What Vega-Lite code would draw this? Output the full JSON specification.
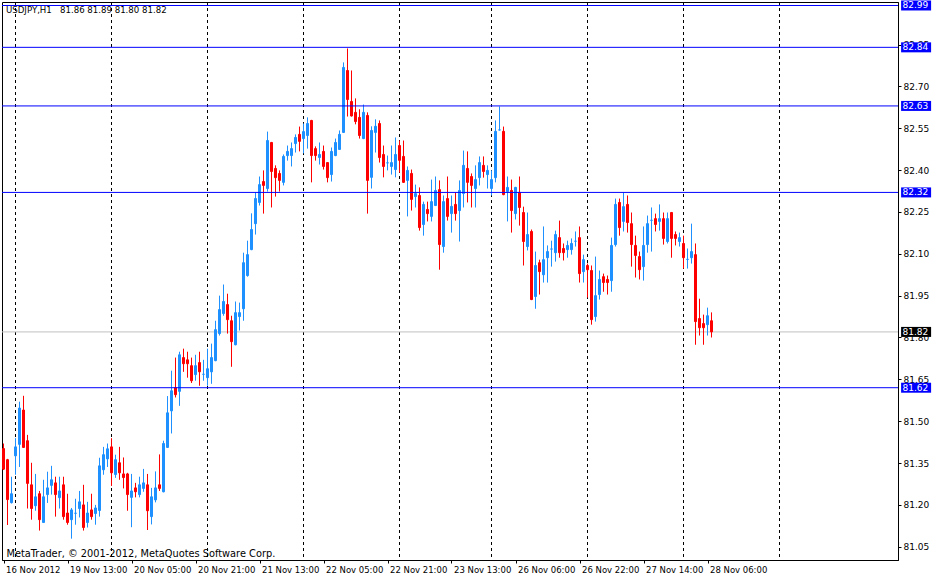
{
  "$schema": "https://vega.github.io/schema/vega-lite/v6.json",
  "description": "USDJPY H1 candlestick chart, MetaTrader style",
  "autosize": {"type": "none"},
  "padding": {"left": 2, "top": 2, "right": 38, "bottom": 17},
  "width": 896,
  "height": 558,
  "background": "white",
  "title": {
    "text": "USDJPY,H1\u00a0\u00a0\u00a081.86 81.89 81.80 81.82",
    "anchor": "start",
    "frame": "group",
    "offset": -14,
    "dx": 4,
    "font": "DejaVu Sans",
    "fontSize": 8.6,
    "fontWeight": "normal",
    "color": "black"
  },
  "config": {
    "font": "DejaVu Sans",
    "view": {"stroke": "black", "strokeWidth": 1},
    "axis": {
      "labelFont": "DejaVu Sans",
      "labelFontSize": 9,
      "labelColor": "black",
      "tickColor": "black",
      "domainColor": "black",
      "grid": false
    }
  },
  "datasets": {
    "candles": [
      {"i": 0, "o": 81.402, "h": 81.420, "l": 81.325, "c": 81.328},
      {"i": 1, "o": 81.362, "h": 81.365, "l": 81.128, "c": 81.219},
      {"i": 2, "o": 81.208, "h": 81.301, "l": 81.205, "c": 81.240},
      {"i": 3, "o": 81.376, "h": 81.439, "l": 81.308, "c": 81.408},
      {"i": 4, "o": 81.417, "h": 81.570, "l": 81.336, "c": 81.547},
      {"i": 5, "o": 81.540, "h": 81.591, "l": 81.404, "c": 81.406},
      {"i": 6, "o": 81.430, "h": 81.451, "l": 81.187, "c": 81.277},
      {"i": 7, "o": 81.272, "h": 81.351, "l": 81.147, "c": 81.187},
      {"i": 8, "o": 81.197, "h": 81.311, "l": 81.179, "c": 81.229},
      {"i": 9, "o": 81.240, "h": 81.250, "l": 81.108, "c": 81.147},
      {"i": 10, "o": 81.137, "h": 81.290, "l": 81.135, "c": 81.229},
      {"i": 11, "o": 81.237, "h": 81.319, "l": 81.207, "c": 81.261},
      {"i": 12, "o": 81.270, "h": 81.340, "l": 81.237, "c": 81.290},
      {"i": 13, "o": 81.279, "h": 81.301, "l": 81.158, "c": 81.237},
      {"i": 14, "o": 81.226, "h": 81.301, "l": 81.187, "c": 81.250},
      {"i": 15, "o": 81.272, "h": 81.301, "l": 81.147, "c": 81.158},
      {"i": 16, "o": 81.171, "h": 81.240, "l": 81.129, "c": 81.137},
      {"i": 17, "o": 81.147, "h": 81.189, "l": 81.079, "c": 81.182},
      {"i": 18, "o": 81.170, "h": 81.222, "l": 81.129, "c": 81.170},
      {"i": 19, "o": 81.187, "h": 81.250, "l": 81.155, "c": 81.211},
      {"i": 20, "o": 81.200, "h": 81.272, "l": 81.108, "c": 81.119},
      {"i": 21, "o": 81.137, "h": 81.211, "l": 81.119, "c": 81.171},
      {"i": 22, "o": 81.182, "h": 81.240, "l": 81.147, "c": 81.158},
      {"i": 23, "o": 81.169, "h": 81.200, "l": 81.129, "c": 81.189},
      {"i": 24, "o": 81.180, "h": 81.369, "l": 81.158, "c": 81.340},
      {"i": 25, "o": 81.326, "h": 81.408, "l": 81.308, "c": 81.380},
      {"i": 26, "o": 81.365, "h": 81.420, "l": 81.336, "c": 81.401},
      {"i": 27, "o": 81.408, "h": 81.439, "l": 81.268, "c": 81.315},
      {"i": 28, "o": 81.309, "h": 81.380, "l": 81.297, "c": 81.362},
      {"i": 29, "o": 81.351, "h": 81.408, "l": 81.290, "c": 81.315},
      {"i": 30, "o": 81.311, "h": 81.370, "l": 81.259, "c": 81.298},
      {"i": 31, "o": 81.311, "h": 81.315, "l": 81.179, "c": 81.237},
      {"i": 32, "o": 81.227, "h": 81.311, "l": 81.120, "c": 81.250},
      {"i": 33, "o": 81.261, "h": 81.279, "l": 81.227, "c": 81.247},
      {"i": 34, "o": 81.237, "h": 81.301, "l": 81.227, "c": 81.272},
      {"i": 35, "o": 81.259, "h": 81.329, "l": 81.247, "c": 81.279},
      {"i": 36, "o": 81.272, "h": 81.311, "l": 81.110, "c": 81.179},
      {"i": 37, "o": 81.158, "h": 81.261, "l": 81.130, "c": 81.229},
      {"i": 38, "o": 81.218, "h": 81.320, "l": 81.209, "c": 81.261},
      {"i": 39, "o": 81.272, "h": 81.381, "l": 81.250, "c": 81.259},
      {"i": 40, "o": 81.247, "h": 81.430, "l": 81.245, "c": 81.420},
      {"i": 41, "o": 81.406, "h": 81.590, "l": 81.404, "c": 81.530},
      {"i": 42, "o": 81.537, "h": 81.681, "l": 81.456, "c": 81.609},
      {"i": 43, "o": 81.620, "h": 81.728, "l": 81.585, "c": 81.595},
      {"i": 44, "o": 81.607, "h": 81.749, "l": 81.555, "c": 81.738},
      {"i": 45, "o": 81.728, "h": 81.760, "l": 81.677, "c": 81.706},
      {"i": 46, "o": 81.720, "h": 81.749, "l": 81.656, "c": 81.706},
      {"i": 47, "o": 81.699, "h": 81.728, "l": 81.637, "c": 81.645},
      {"i": 48, "o": 81.667, "h": 81.738, "l": 81.645, "c": 81.699},
      {"i": 49, "o": 81.710, "h": 81.749, "l": 81.627, "c": 81.677},
      {"i": 50, "o": 81.668, "h": 81.720, "l": 81.645, "c": 81.668},
      {"i": 51, "o": 81.656, "h": 81.760, "l": 81.627, "c": 81.688},
      {"i": 52, "o": 81.677, "h": 81.778, "l": 81.634, "c": 81.728},
      {"i": 53, "o": 81.717, "h": 81.860, "l": 81.715, "c": 81.828},
      {"i": 54, "o": 81.814, "h": 81.950, "l": 81.807, "c": 81.900},
      {"i": 55, "o": 81.886, "h": 81.990, "l": 81.878, "c": 81.929},
      {"i": 56, "o": 81.918, "h": 81.957, "l": 81.814, "c": 81.864},
      {"i": 57, "o": 81.860, "h": 81.878, "l": 81.695, "c": 81.785},
      {"i": 58, "o": 81.774, "h": 81.929, "l": 81.772, "c": 81.889},
      {"i": 59, "o": 81.875, "h": 81.925, "l": 81.825, "c": 81.889},
      {"i": 60, "o": 81.903, "h": 82.104, "l": 81.860, "c": 82.068},
      {"i": 61, "o": 82.022, "h": 82.147, "l": 82.018, "c": 82.097},
      {"i": 62, "o": 82.115, "h": 82.245, "l": 82.113, "c": 82.187},
      {"i": 63, "o": 82.208, "h": 82.320, "l": 82.169, "c": 82.298},
      {"i": 64, "o": 82.284, "h": 82.377, "l": 82.273, "c": 82.348},
      {"i": 65, "o": 82.359, "h": 82.399, "l": 82.244, "c": 82.345},
      {"i": 66, "o": 82.334, "h": 82.538, "l": 82.323, "c": 82.506},
      {"i": 67, "o": 82.499, "h": 82.501, "l": 82.266, "c": 82.395},
      {"i": 68, "o": 82.406, "h": 82.417, "l": 82.305, "c": 82.373},
      {"i": 69, "o": 82.388, "h": 82.399, "l": 82.323, "c": 82.363},
      {"i": 70, "o": 82.356, "h": 82.456, "l": 82.345, "c": 82.449},
      {"i": 71, "o": 82.452, "h": 82.488, "l": 82.434, "c": 82.467},
      {"i": 72, "o": 82.452, "h": 82.499, "l": 82.413, "c": 82.477},
      {"i": 73, "o": 82.495, "h": 82.528, "l": 82.463, "c": 82.517},
      {"i": 74, "o": 82.528, "h": 82.556, "l": 82.467, "c": 82.503},
      {"i": 75, "o": 82.513, "h": 82.567, "l": 82.460, "c": 82.538},
      {"i": 76, "o": 82.524, "h": 82.589, "l": 82.477, "c": 82.567},
      {"i": 77, "o": 82.578, "h": 82.580, "l": 82.356, "c": 82.452},
      {"i": 78, "o": 82.477, "h": 82.485, "l": 82.434, "c": 82.452},
      {"i": 79, "o": 82.445, "h": 82.499, "l": 82.420, "c": 82.456},
      {"i": 80, "o": 82.467, "h": 82.488, "l": 82.402, "c": 82.413},
      {"i": 81, "o": 82.427, "h": 82.429, "l": 82.356, "c": 82.373},
      {"i": 82, "o": 82.384, "h": 82.481, "l": 82.359, "c": 82.467},
      {"i": 83, "o": 82.452, "h": 82.513, "l": 82.450, "c": 82.499},
      {"i": 84, "o": 82.474, "h": 82.542, "l": 82.472, "c": 82.528},
      {"i": 85, "o": 82.535, "h": 82.786, "l": 82.533, "c": 82.768},
      {"i": 86, "o": 82.757, "h": 82.836, "l": 82.592, "c": 82.653},
      {"i": 87, "o": 82.646, "h": 82.757, "l": 82.592, "c": 82.594},
      {"i": 88, "o": 82.607, "h": 82.657, "l": 82.564, "c": 82.574},
      {"i": 89, "o": 82.589, "h": 82.618, "l": 82.513, "c": 82.524},
      {"i": 90, "o": 82.513, "h": 82.635, "l": 82.511, "c": 82.607},
      {"i": 91, "o": 82.596, "h": 82.607, "l": 82.244, "c": 82.363},
      {"i": 92, "o": 82.374, "h": 82.557, "l": 82.334, "c": 82.542},
      {"i": 93, "o": 82.535, "h": 82.582, "l": 82.463, "c": 82.557},
      {"i": 94, "o": 82.567, "h": 82.578, "l": 82.427, "c": 82.445},
      {"i": 95, "o": 82.456, "h": 82.488, "l": 82.374, "c": 82.413},
      {"i": 96, "o": 82.426, "h": 82.452, "l": 82.399, "c": 82.426},
      {"i": 97, "o": 82.413, "h": 82.488, "l": 82.384, "c": 82.427},
      {"i": 98, "o": 82.402, "h": 82.517, "l": 82.374, "c": 82.456},
      {"i": 99, "o": 82.488, "h": 82.506, "l": 82.391, "c": 82.435},
      {"i": 100, "o": 82.449, "h": 82.506, "l": 82.354, "c": 82.356},
      {"i": 101, "o": 82.363, "h": 82.413, "l": 82.234, "c": 82.399},
      {"i": 102, "o": 82.388, "h": 82.402, "l": 82.255, "c": 82.295},
      {"i": 103, "o": 82.305, "h": 82.348, "l": 82.266, "c": 82.316},
      {"i": 104, "o": 82.309, "h": 82.338, "l": 82.183, "c": 82.194},
      {"i": 105, "o": 82.205, "h": 82.287, "l": 82.165, "c": 82.277},
      {"i": 106, "o": 82.259, "h": 82.287, "l": 82.216, "c": 82.244},
      {"i": 107, "o": 82.234, "h": 82.366, "l": 82.216, "c": 82.287},
      {"i": 108, "o": 82.273, "h": 82.377, "l": 82.271, "c": 82.327},
      {"i": 109, "o": 82.330, "h": 82.363, "l": 82.043, "c": 82.133},
      {"i": 110, "o": 82.126, "h": 82.309, "l": 82.104, "c": 82.287},
      {"i": 111, "o": 82.298, "h": 82.377, "l": 82.219, "c": 82.234},
      {"i": 112, "o": 82.244, "h": 82.309, "l": 82.176, "c": 82.270},
      {"i": 113, "o": 82.277, "h": 82.320, "l": 82.219, "c": 82.244},
      {"i": 114, "o": 82.255, "h": 82.363, "l": 82.144, "c": 82.327},
      {"i": 115, "o": 82.316, "h": 82.470, "l": 82.266, "c": 82.417},
      {"i": 116, "o": 82.406, "h": 82.467, "l": 82.284, "c": 82.356},
      {"i": 117, "o": 82.377, "h": 82.388, "l": 82.266, "c": 82.345},
      {"i": 118, "o": 82.334, "h": 82.417, "l": 82.266, "c": 82.366},
      {"i": 119, "o": 82.373, "h": 82.449, "l": 82.345, "c": 82.427},
      {"i": 120, "o": 82.417, "h": 82.449, "l": 82.373, "c": 82.395},
      {"i": 121, "o": 82.384, "h": 82.417, "l": 82.334, "c": 82.399},
      {"i": 122, "o": 82.334, "h": 82.399, "l": 82.309, "c": 82.366},
      {"i": 123, "o": 82.373, "h": 82.578, "l": 82.356, "c": 82.539},
      {"i": 124, "o": 82.544, "h": 82.628, "l": 82.542, "c": 82.544},
      {"i": 125, "o": 82.539, "h": 82.556, "l": 82.310, "c": 82.312},
      {"i": 126, "o": 82.323, "h": 82.377, "l": 82.216, "c": 82.338},
      {"i": 127, "o": 82.327, "h": 82.366, "l": 82.176, "c": 82.255},
      {"i": 128, "o": 82.244, "h": 82.340, "l": 82.223, "c": 82.338},
      {"i": 129, "o": 82.320, "h": 82.377, "l": 82.201, "c": 82.266},
      {"i": 130, "o": 82.248, "h": 82.269, "l": 82.058, "c": 82.144},
      {"i": 131, "o": 82.126, "h": 82.248, "l": 82.112, "c": 82.169},
      {"i": 132, "o": 82.180, "h": 82.187, "l": 81.934, "c": 81.936},
      {"i": 133, "o": 81.947, "h": 82.108, "l": 81.903, "c": 82.058},
      {"i": 134, "o": 82.068, "h": 82.079, "l": 81.954, "c": 82.036},
      {"i": 135, "o": 82.025, "h": 82.198, "l": 81.997, "c": 82.079},
      {"i": 136, "o": 82.086, "h": 82.130, "l": 81.997, "c": 82.108},
      {"i": 137, "o": 82.117, "h": 82.147, "l": 82.054, "c": 82.117},
      {"i": 138, "o": 82.104, "h": 82.183, "l": 82.072, "c": 82.169},
      {"i": 139, "o": 82.158, "h": 82.219, "l": 82.086, "c": 82.104},
      {"i": 140, "o": 82.119, "h": 82.137, "l": 82.076, "c": 82.104},
      {"i": 141, "o": 82.115, "h": 82.147, "l": 82.086, "c": 82.130},
      {"i": 142, "o": 82.115, "h": 82.155, "l": 82.097, "c": 82.137},
      {"i": 143, "o": 82.145, "h": 82.180, "l": 82.126, "c": 82.145},
      {"i": 144, "o": 82.158, "h": 82.198, "l": 81.997, "c": 82.029},
      {"i": 145, "o": 82.036, "h": 82.097, "l": 81.997, "c": 82.079},
      {"i": 146, "o": 82.058, "h": 82.065, "l": 81.943, "c": 82.043},
      {"i": 147, "o": 82.040, "h": 82.058, "l": 81.846, "c": 81.864},
      {"i": 148, "o": 81.875, "h": 82.090, "l": 81.857, "c": 81.950},
      {"i": 149, "o": 81.954, "h": 82.040, "l": 81.936, "c": 82.008},
      {"i": 150, "o": 82.018, "h": 82.029, "l": 81.964, "c": 81.997},
      {"i": 151, "o": 82.008, "h": 82.022, "l": 81.954, "c": 81.997},
      {"i": 152, "o": 82.004, "h": 82.158, "l": 81.964, "c": 82.130},
      {"i": 153, "o": 82.133, "h": 82.298, "l": 82.126, "c": 82.277},
      {"i": 154, "o": 82.284, "h": 82.298, "l": 82.165, "c": 82.194},
      {"i": 155, "o": 82.216, "h": 82.320, "l": 82.180, "c": 82.269},
      {"i": 156, "o": 82.277, "h": 82.309, "l": 82.176, "c": 82.212},
      {"i": 157, "o": 82.208, "h": 82.248, "l": 82.054, "c": 82.133},
      {"i": 158, "o": 82.130, "h": 82.165, "l": 82.015, "c": 82.094},
      {"i": 159, "o": 82.090, "h": 82.108, "l": 82.008, "c": 82.043},
      {"i": 160, "o": 82.054, "h": 82.198, "l": 82.004, "c": 82.130},
      {"i": 161, "o": 82.133, "h": 82.237, "l": 82.104, "c": 82.208},
      {"i": 162, "o": 82.220, "h": 82.266, "l": 82.108, "c": 82.220},
      {"i": 163, "o": 82.226, "h": 82.244, "l": 82.180, "c": 82.205},
      {"i": 164, "o": 82.216, "h": 82.277, "l": 82.183, "c": 82.226},
      {"i": 165, "o": 82.226, "h": 82.248, "l": 82.133, "c": 82.155},
      {"i": 166, "o": 82.144, "h": 82.248, "l": 82.137, "c": 82.226},
      {"i": 167, "o": 82.248, "h": 82.250, "l": 82.086, "c": 82.155},
      {"i": 168, "o": 82.169, "h": 82.180, "l": 82.130, "c": 82.155},
      {"i": 169, "o": 82.144, "h": 82.176, "l": 82.126, "c": 82.158},
      {"i": 170, "o": 82.137, "h": 82.165, "l": 82.047, "c": 82.086},
      {"i": 171, "o": 82.080, "h": 82.119, "l": 82.047, "c": 82.080},
      {"i": 172, "o": 82.086, "h": 82.208, "l": 82.065, "c": 82.108},
      {"i": 173, "o": 82.097, "h": 82.137, "l": 81.774, "c": 81.857},
      {"i": 174, "o": 81.868, "h": 81.939, "l": 81.807, "c": 81.835},
      {"i": 175, "o": 81.850, "h": 81.882, "l": 81.774, "c": 81.835},
      {"i": 176, "o": 81.846, "h": 81.907, "l": 81.807, "c": 81.878},
      {"i": 177, "o": 81.86, "h": 81.89, "l": 81.80, "c": 81.82}
    ],
    "separators": [
      {"i": 3}, {"i": 27}, {"i": 51}, {"i": 75}, {"i": 99},
      {"i": 122}, {"i": 146}, {"i": 170}, {"i": 194}
    ],
    "levels": [
      {"p": 82.99, "label": "82.99", "kind": "line"},
      {"p": 82.84, "label": "82.84", "kind": "line"},
      {"p": 82.63, "label": "82.63", "kind": "line"},
      {"p": 82.32, "label": "82.32", "kind": "line"},
      {"p": 81.62, "label": "81.62", "kind": "line"},
      {"p": 81.82, "label": "81.82", "kind": "last"}
    ]
  },
  "encoding": {
    "x": {
      "type": "quantitative",
      "scale": {"domain": [-0.375, 223.625], "nice": false, "zero": false, "padding": 0},
      "axis": {
        "values": [0, 16, 32, 48, 64, 80, 96, 112, 128, 144, 160, 176],
        "labelExpr": "['16 Nov 2012','19 Nov 13:00','20 Nov 05:00','20 Nov 21:00','21 Nov 13:00','22 Nov 05:00','22 Nov 21:00','23 Nov 13:00','26 Nov 06:00','26 Nov 22:00','27 Nov 14:00','28 Nov 06:00'][round(datum.value / 16)]",
        "labelAlign": "left",
        "labelBaseline": "top",
        "labelFontSize": 8.5,
        "labelOffset": 2,
        "labelPadding": 2,
        "labelFlush": false,
        "labelOverlap": false,
        "tickSize": 3,
        "title": "MetaTrader, \u00a9 2001-2012, MetaQuotes Software Corp.",
        "titleX": 4,
        "titleY": -4,
        "titleAlign": "left",
        "titleBaseline": "alphabetic",
        "titleFont": "DejaVu Sans",
        "titleFontSize": 9.8,
        "titleFontWeight": "normal",
        "titleColor": "black"
      }
    },
    "y": {
      "type": "quantitative",
      "scale": {"domain": [81.0025, 83.0025], "nice": false, "zero": false, "padding": 0},
      "axis": {
        "orient": "right",
        "title": null,
        "values": [81.05, 81.2, 81.35, 81.5, 81.65, 81.8, 81.95, 82.1, 82.25, 82.4, 82.55, 82.7, 82.85],
        "format": ".2f",
        "tickSize": 3,
        "labelPadding": 2,
        "labelBaseline": "middle"
      }
    }
  },
  "layer": [
    {
      "data": {"name": "separators"},
      "mark": {"type": "rule", "color": "black", "strokeWidth": 1, "strokeDash": [3, 3]},
      "encoding": {"x": {"field": "i", "type": "quantitative"}}
    },
    {
      "data": {"name": "levels"},
      "transform": [{"filter": "datum.kind == 'last'"}],
      "mark": {"type": "rule", "color": "#C0C0C0", "strokeWidth": 1},
      "encoding": {"y": {"field": "p", "type": "quantitative"}}
    },
    {
      "data": {"name": "candles"},
      "mark": {"type": "rule", "strokeWidth": 1},
      "encoding": {
        "x": {"field": "i", "type": "quantitative"},
        "y": {"field": "l", "type": "quantitative"},
        "y2": {"field": "h"},
        "color": {
          "condition": {"test": "datum.c >= datum.o", "value": "#1E90FF"},
          "value": "#FF0000"
        }
      }
    },
    {
      "data": {"name": "candles"},
      "mark": {"type": "bar", "size": 2, "strokeWidth": 1},
      "encoding": {
        "x": {"field": "i", "type": "quantitative"},
        "y": {"field": "o", "type": "quantitative"},
        "y2": {"field": "c"},
        "color": {
          "condition": {"test": "datum.c >= datum.o", "value": "#1E90FF"},
          "value": "#FF0000"
        },
        "stroke": {
          "condition": {"test": "datum.c >= datum.o", "value": "#1E90FF"},
          "value": "#FF0000"
        }
      }
    },
    {
      "data": {"name": "levels"},
      "transform": [{"filter": "datum.kind == 'line'"}],
      "mark": {"type": "rule", "color": "#0000FF", "strokeWidth": 1},
      "encoding": {"y": {"field": "p", "type": "quantitative"}}
    },
    {
      "data": {"name": "levels"},
      "mark": {"type": "rect", "yOffset": 5, "y2Offset": -5},
      "encoding": {
        "x": {"datum": 224.4, "type": "quantitative"},
        "x2": {"datum": 231.9},
        "y": {"field": "p", "type": "quantitative"},
        "y2": {"field": "p"},
        "color": {
          "condition": {"test": "datum.kind == 'last'", "value": "black"},
          "value": "#0000FF"
        }
      }
    },
    {
      "data": {"name": "levels"},
      "mark": {
        "type": "text",
        "align": "left",
        "baseline": "middle",
        "dx": 1,
        "font": "DejaVu Sans",
        "fontSize": 9,
        "color": "white"
      },
      "encoding": {
        "x": {"datum": 224.5, "type": "quantitative"},
        "y": {"field": "p", "type": "quantitative"},
        "text": {"field": "label"}
      }
    }
  ]
}
